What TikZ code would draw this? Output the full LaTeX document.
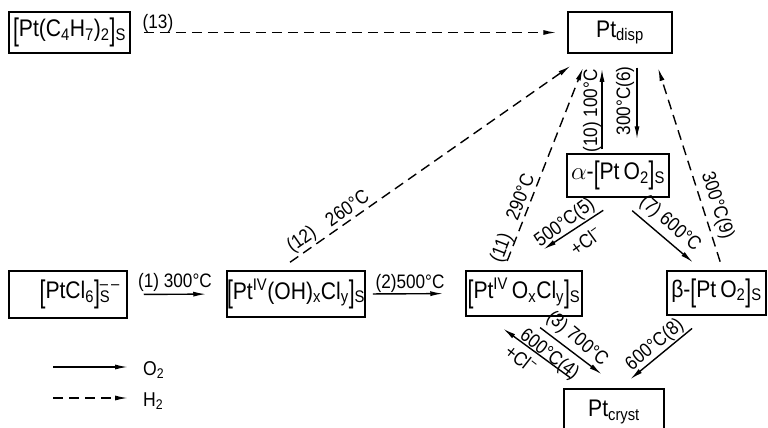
\documentclass[tikz,border=0pt]{standalone}
\usepackage{fontspec}
\usepackage{graphicx}
\usepackage{amsmath}
\setmainfont{Liberation Sans}[FakeStretch=0.88]
\usetikzlibrary{arrows.meta}
\newcommand{\lbr}{\raisebox{-0.16em}{\scalebox{1}[1.3]{[}}}
\newcommand{\rbr}{\raisebox{-0.16em}{\scalebox{1}[1.3]{]}}}

\begin{document}
\begin{tikzpicture}[
  x=1pt, y=1pt,
  box/.style={draw, line width=1.5pt, inner sep=0pt, font=\fontsize{24}{28}\selectfont},
  lbl/.style={font=\fontsize{19.5}{21}\selectfont, inner sep=0.5pt},
  otwo/.style={line width=1.4pt, -{Latex[length=13pt,width=5pt]}},
  htwo/.style={otwo, dash pattern=on 10pt off 6pt},
]
\useasboundingbox (0,0) rectangle (768,-428);
% --- bloki ---
\node[box, minimum width=121pt, minimum height=41pt] (c4) at (69.5,-32.5) {\lbr Pt(C\textsubscript{4}H\textsubscript{7})\textsubscript{2}\rbr\textsubscript{S}};
\node[box, minimum width=104pt, minimum height=41pt] (disp) at (620,-32.5) {Pt\textsubscript{disp}};
\node[box, minimum width=102pt, minimum height=43pt] (alpha) at (618,-175.5) {$\alpha$-\lbr Pt\,O\textsubscript{2}\rbr\textsubscript{S}};
\node[box, minimum width=118pt, minimum height=47pt] (cl6) at (68,-294.5) {\hspace*{14pt}\lbr PtCl\textsubscript{6}\rbr\rlap{\textsuperscript{–\,–}}\textsubscript{S}};
\node[box, minimum width=138pt, minimum height=46pt] (oh) at (296,-294) {\lbr Pt\textsuperscript{IV}(OH)\textsubscript{x}Cl\textsubscript{y}\rbr\textsubscript{S}};
\node[box, minimum width=116pt, minimum height=45pt] (oxcl) at (524,-293.5) {\lbr Pt\textsuperscript{IV}\,O\textsubscript{x}Cl\textsubscript{y}\rbr\textsubscript{S}};
\node[box, minimum width=99pt, minimum height=44pt] (beta) at (716.5,-293) {β-\lbr Pt\,O\textsubscript{2}\rbr\textsubscript{S}};
\node[box, minimum width=100pt, minimum height=46pt] (cryst) at (614,-412) {Pt\textsubscript{cryst}};
% --- przejscia O2 ---
\draw[otwo, shorten <=16pt, shorten >=20pt] (cl6.east) -- (oh.west);
\draw[otwo, shorten <=7pt, shorten >=22pt] (oh.east) -- (oxcl.west);
\draw[otwo, shorten <=4pt, shorten >=15pt] ([xshift=-16pt]alpha.north) -- ([xshift=-18pt]disp.south);
\draw[otwo, shorten <=14pt, shorten >=14pt] ([xshift=17pt]disp.south) -- ([xshift=19pt]alpha.north);
\draw[otwo, shorten <=23pt, shorten >=38pt] ([xshift=4.5pt]alpha.south) -- ([xshift=-12.5pt]oxcl.north);
\draw[otwo, shorten <=20pt, shorten >=12pt] ([xshift=-1pt]alpha.south) -- ([xshift=-14.3pt]beta.north);
\draw[otwo, shorten <=18pt, shorten >=23pt] ([xshift=1.8pt]oxcl.south) -- ([xshift=6.1pt]cryst.north);
\draw[otwo, shorten <=18pt, shorten >=20pt] ([xshift=-29.3pt]cryst.north) -- ([xshift=-37.1pt]oxcl.south);
\draw[otwo, shorten <=20pt, shorten >=14pt] ([xshift=-9pt]beta.south) -- ([xshift=5.3pt]cryst.north);
% --- przejscia H2 ---
\draw[htwo, shorten <=13pt, shorten >=11pt] (c4.east) -- (disp.west);
\draw[htwo, shorten <=14pt, shorten >=21pt] ([xshift=-17.4pt]oh.north) -- ([xshift=-32pt]disp.south);
\draw[htwo, shorten <=10pt, shorten >=15pt] ([xshift=-20.5pt]oxcl.north) -- ([xshift=-31.5pt]disp.south);
\draw[htwo, shorten <=9pt, shorten >=15pt] ([xshift=6.4pt]beta.north) -- ([xshift=33.5pt]disp.south);
% --- opisy ---
\node[lbl] (l13) at (158,-23) {(13)};
\node[lbl] (l1) at (175,-282) {(1) 300°C};
\node[lbl] (l2) at (410,-283) {(2)500°C};
\node[lbl, rotate=35] (l12a) at (302,-240) {(12)};
\node[lbl, rotate=35] (l12b) at (347,-208) {260°C};
\node[lbl, rotate=69] (l11a) at (502,-248) {(11)};
\node[lbl, rotate=69] (l11b) at (520,-197) {290°C};
\node[lbl, rotate=90] (l10) at (592,-111) {(10) 100°C};
\node[lbl, rotate=90] (l6) at (625,-101) {300°C(6)};
\node[lbl, rotate=36] (l5a) at (565,-223) {500°C(5)};
\node[lbl, rotate=36] (l5b) at (586,-241) {+Cl\textsuperscript{−}};
\node[lbl, rotate=-41] (l7) at (670,-224) {(7) 600°C};
\node[lbl, rotate=-72] (l9) at (717,-206) {300°C(9)};
\node[lbl, rotate=-40] (l3) at (577,-339) {(3) 700°C};
\node[lbl, rotate=-38] (l4a) at (549,-355) {600°C(4)};
\node[lbl, rotate=-38] (l4b) at (521,-359) {+Cl\textsuperscript{−}};
\node[lbl, rotate=40] (l8) at (655,-345) {600°C(8)};
% --- legenda ---
\coordinate (lg1) at (53,-367);
\coordinate (lg2) at (53,-398);
\node[anchor=west, inner sep=0pt, font=\fontsize{20}{22}\selectfont] (leg1) at (143,-370) {O\textsubscript{2}};
\node[anchor=west, inner sep=0pt, font=\fontsize{20}{22}\selectfont] (leg2) at (143,-401) {H\textsubscript{2}};
\draw[otwo, shorten >=15pt] (lg1) -- (lg1 -| leg1.west);
\draw[htwo, shorten >=15pt] (lg2) -- (lg2 -| leg2.west);
\end{tikzpicture}
\end{document}
